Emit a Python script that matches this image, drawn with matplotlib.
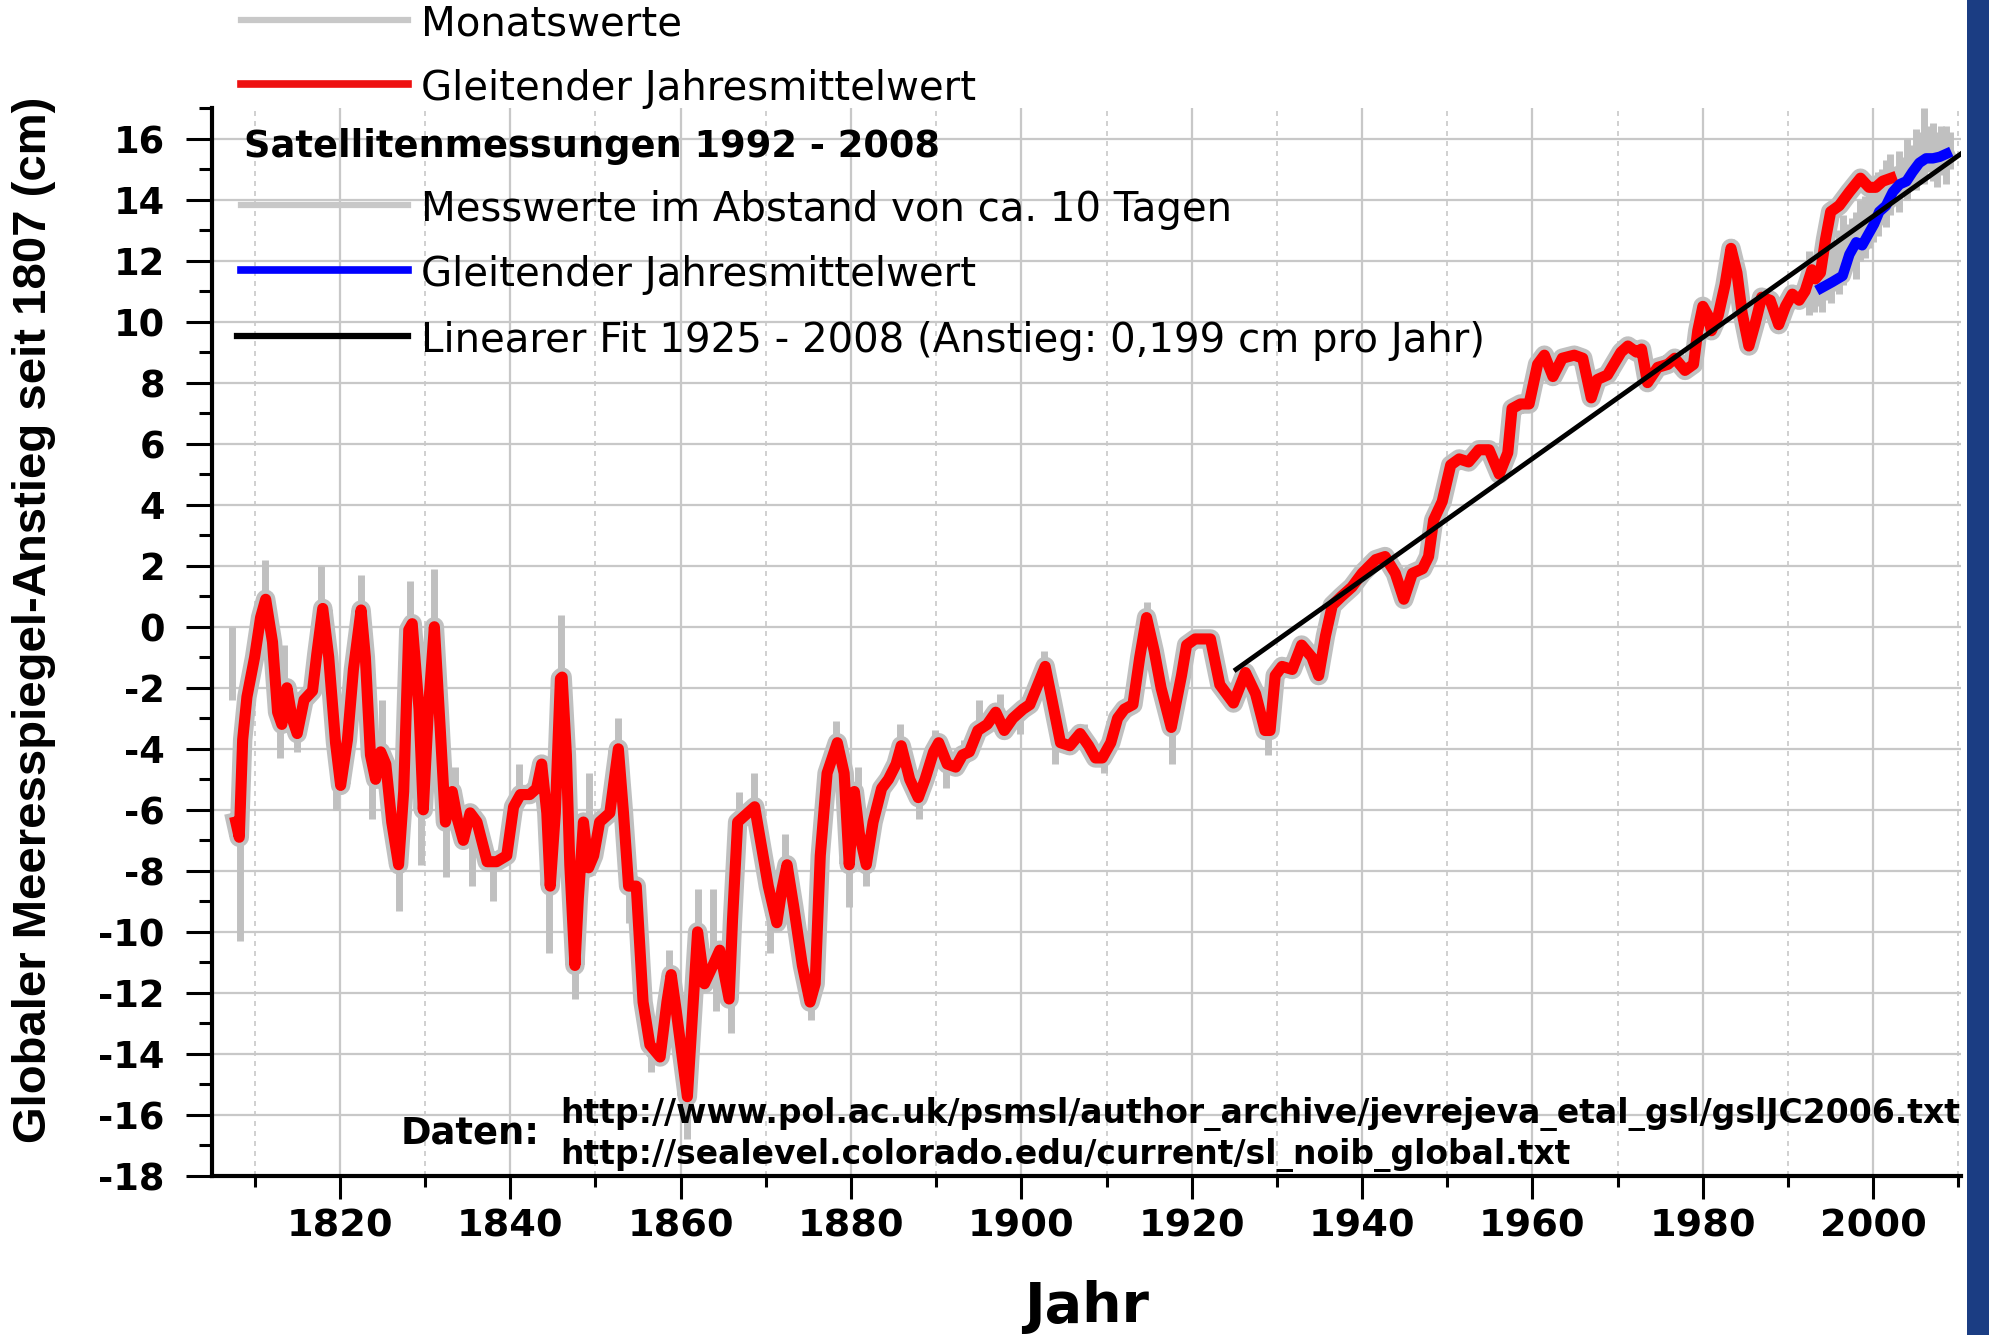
import matplotlib
matplotlib.use("Agg")
import matplotlib.pyplot as plt
from matplotlib.lines import Line2D
from matplotlib.patches import Rectangle
from matplotlib.ticker import MultipleLocator

plt.rcParams["font.family"] = ["DejaVu Sans"]
plt.rcParams["axes.unicode_minus"] = False

# gleitender Jahresmittelwert der Pegeldaten (cm)
red_years = [
    1807.8, 1808.2, 1808.6, 1809.1, 1810.0, 1810.7, 1811.3, 1812.1, 1812.7, 1813.2,
    1813.8, 1814.4, 1815.0, 1815.8, 1816.8, 1817.3, 1818.0, 1818.7, 1819.5, 1820.1,
    1820.9, 1821.6, 1822.5, 1823.0, 1823.6, 1824.2, 1824.8, 1825.4, 1826.1, 1826.9,
    1827.5, 1828.1, 1828.5, 1829.3, 1829.8, 1830.4, 1831.1, 1831.8, 1832.4, 1833.2,
    1833.8, 1834.5, 1835.3, 1836.1, 1837.3, 1838.4, 1839.6, 1840.4, 1841.2, 1842.3,
    1843.1, 1843.7, 1844.3, 1844.7, 1845.3, 1845.9, 1846.1, 1846.6, 1847.0, 1847.6,
    1848.0, 1848.6, 1849.2, 1849.8, 1850.5, 1851.7, 1852.7, 1853.3, 1853.9, 1854.8,
    1855.6, 1856.4, 1857.6, 1858.4, 1858.9, 1859.5, 1860.8, 1862.0, 1862.8, 1863.8,
    1864.6, 1865.7, 1866.1, 1866.7, 1867.9, 1868.7, 1869.5, 1870.3, 1871.3, 1871.9,
    1872.5, 1873.3, 1874.3, 1875.2, 1875.8, 1876.4, 1877.2, 1878.4, 1879.2, 1879.8,
    1880.4, 1881.0, 1881.8, 1882.6, 1883.6, 1884.4, 1885.3, 1885.9, 1886.9, 1887.9,
    1888.7, 1889.7, 1890.3, 1891.3, 1892.3, 1893.1, 1893.9, 1894.9, 1896.0, 1897.0,
    1898.0, 1899.0, 1900.2, 1901.0, 1901.8, 1902.8, 1903.6, 1904.6, 1905.7, 1906.9,
    1907.9, 1908.7, 1909.5, 1910.5, 1911.3, 1912.1, 1913.1, 1913.9, 1914.7, 1915.6,
    1916.4, 1917.6, 1918.8, 1919.4, 1920.4, 1922.2, 1923.3, 1924.9, 1926.3, 1927.5,
    1928.6, 1929.2, 1929.8, 1930.6, 1931.8, 1932.9, 1934.1, 1934.9, 1935.7, 1936.5,
    1937.6, 1938.8, 1940.0, 1941.6, 1942.7, 1943.9, 1944.9, 1945.9, 1947.1, 1947.8,
    1948.4, 1949.4, 1950.4, 1951.4, 1952.5, 1953.7, 1954.9, 1956.1, 1957.1, 1957.6,
    1958.6, 1959.6, 1960.6, 1961.4, 1962.4, 1963.5, 1964.9, 1965.9, 1966.9, 1967.6,
    1968.8, 1970.4, 1971.2, 1972.2, 1972.8, 1973.5, 1974.7, 1975.9, 1976.7, 1977.9,
    1978.9, 1979.4, 1980.0, 1980.6, 1981.0, 1981.8, 1982.6, 1983.3, 1984.0, 1984.6,
    1985.4, 1986.1, 1986.9, 1987.9, 1988.9, 1989.7, 1990.5, 1991.3, 1992.0, 1992.8,
    1993.2, 1993.8, 1994.4, 1995.0, 1996.0, 1997.2, 1998.5, 1999.5, 2000.3, 2001.1,
    2002.1,
]
red_cm = [
    -6.4, -6.9, -3.7, -2.3, -1.0, 0.3, 0.9, -0.5, -2.8, -3.2,
    -2.0, -3.0, -3.5, -2.4, -2.1, -0.9, 0.6, -1.0, -3.8, -5.2,
    -3.7, -1.4, 0.55, -1.0, -4.2, -5.0, -4.1, -4.5, -6.4, -7.8,
    -5.4, -0.1, 0.1, -2.7, -6.0, -2.7, 0.0, -3.4, -6.4, -5.4,
    -6.3, -7.0, -6.1, -6.4, -7.7, -7.7, -7.5, -5.9, -5.5, -5.5,
    -5.3, -4.5, -6.1, -8.5, -6.1, -1.7, -1.65, -4.2, -7.8, -11.1,
    -8.9, -6.4, -7.9, -7.5, -6.4, -6.1, -4.0, -6.1, -8.5, -8.5,
    -12.3, -13.7, -14.1, -12.3, -11.4, -12.6, -15.4, -10.0, -11.7, -11.1,
    -10.6, -12.2, -9.6, -6.4, -6.1, -5.9, -7.2, -8.5, -9.7, -8.6,
    -7.8, -9.2, -11.1, -12.3, -11.7, -7.5, -4.8, -3.8, -4.8, -7.8,
    -5.4, -6.8, -7.8, -6.4, -5.3, -5.0, -4.5, -3.9, -5.0, -5.6,
    -5.0, -4.1, -3.8, -4.5, -4.6, -4.2, -4.1, -3.4, -3.2, -2.8,
    -3.4, -3.0, -2.7, -2.55, -2.0, -1.3, -2.4, -3.8, -3.9, -3.5,
    -3.9, -4.3, -4.3, -3.8, -3.0, -2.7, -2.55, -1.0, 0.3, -0.8,
    -2.0, -3.3, -1.6, -0.6, -0.4, -0.4, -1.9, -2.5, -1.5, -2.2,
    -3.4, -3.4, -1.6, -1.3, -1.4, -0.6, -1.0, -1.6, -0.3, 0.7,
    1.0, 1.3, 1.75, 2.2, 2.3, 1.75, 0.9, 1.75, 1.9, 2.3,
    3.5, 4.1, 5.3, 5.5, 5.4, 5.8, 5.8, 5.0, 5.7, 7.15,
    7.3, 7.3, 8.6, 8.9, 8.2, 8.8, 8.9, 8.8, 7.5, 8.1,
    8.25, 9.0, 9.2, 9.0, 9.1, 8.0, 8.5, 8.6, 8.8, 8.4,
    8.6, 9.7, 10.5, 10.2, 9.7, 10.2, 11.2, 12.4, 11.6, 10.3,
    9.2, 9.9, 10.8, 10.7, 9.9, 10.5, 10.9, 10.7, 11.0, 11.7,
    11.4, 11.6, 12.7, 13.6, 13.8, 14.25, 14.7, 14.4, 14.4, 14.6,
    14.7,
]

# Monatswerte: sichtbare Ausreisser (Jahr, Minimum, Maximum)
month_years = [
    1807.4, 1808.3, 1811.2, 1813.0, 1813.4, 1815.0, 1817.8, 1819.6, 1822.5, 1823.8,
    1825.0, 1827.0, 1828.3, 1829.5, 1831.0, 1832.5, 1833.5, 1835.5, 1838.0, 1841.0,
    1843.0, 1844.6, 1846.0, 1847.6, 1849.3, 1852.6, 1854.0, 1856.5, 1858.7, 1860.7,
    1862.0, 1863.8, 1864.2, 1865.9, 1866.9, 1868.6, 1870.5, 1872.3, 1875.3, 1878.2,
    1879.8, 1880.8, 1881.8, 1885.8, 1888.0, 1889.9, 1891.2, 1893.3, 1895.0, 1897.5,
    1899.8, 1902.7, 1904.0, 1907.4, 1909.7, 1914.7, 1917.7, 1920.8, 1929.0, 1983.3,
]
month_lo = [
    -2.4, -10.3, 0.0, -4.3, -2.5, -4.1, 0.0, -6.0, 0.0, -6.3,
    -4.5, -9.3, 0.0, -7.8, 0.0, -8.2, -5.5, -8.5, -9.0, -6.0,
    -5.5, -10.7, -2.0, -12.2, -7.0, -4.5, -9.7, -14.6, -12.0, -16.8,
    -10.5, -11.5, -12.6, -13.3, -6.5, -6.0, -10.7, -8.0, -12.9, -4.0,
    -9.2, -6.0, -8.5, -4.0, -6.3, -4.0, -5.3, -4.5, -3.5, -3.2,
    -3.5, -1.5, -4.5, -4.0, -4.8, 0.0, -4.5, -0.5, -4.2, 12.0,
]
month_hi = [
    0.0, -6.0, 2.2, -2.5, -0.6, -3.0, 2.0, -3.5, 1.7, -4.5,
    -2.4, -7.0, 1.5, -5.5, 1.9, -6.0, -4.6, -6.0, -7.5, -4.5,
    -4.6, -8.0, 0.4, -10.5, -4.8, -3.0, -8.0, -13.0, -10.6, -15.0,
    -8.6, -8.6, -11.0, -12.0, -5.4, -4.8, -8.5, -6.8, -12.0, -3.1,
    -7.5, -4.6, -7.5, -3.2, -5.5, -3.4, -4.5, -3.7, -2.4, -2.2,
    -2.7, -0.8, -3.5, -3.2, -4.0, 0.8, -3.2, -0.2, -3.2, 12.7,
]

# Satellitenmesswerte (ca. 10 Tage): Streubereich je Halbjahr
sat_years = [
    1992.5, 1993.0, 1993.5, 1994.0, 1994.5, 1995.0, 1995.5, 1996.0, 1996.5, 1997.0,
    1997.5, 1998.0, 1998.5, 1999.0, 1999.5, 2000.0, 2000.5, 2001.0, 2001.5, 2002.0,
    2002.5, 2003.0, 2003.5, 2004.0, 2004.5, 2005.0, 2005.5, 2006.0, 2006.5, 2007.0,
    2007.5, 2008.0, 2008.5, 2009.0,
]
sat_lo = [
    10.2, 10.3, 10.5, 10.3, 10.7, 10.6, 11.0, 10.9, 11.2, 11.6,
    11.9, 11.4, 12.0, 12.1, 12.4, 12.6, 12.8, 13.2, 13.1, 13.5,
    13.8, 13.6, 14.1, 14.0, 14.4, 14.3, 14.6, 14.5, 14.9, 14.6,
    14.4, 14.8, 14.5, 15.0,
]
sat_hi = [
    12.3, 12.0, 11.8, 11.9, 12.0, 12.2, 12.6, 13.0, 13.5, 13.2,
    13.4, 13.6, 14.0, 14.1, 14.3, 14.5, 14.9, 15.0, 15.3, 15.5,
    15.0, 15.6, 15.4, 16.0, 15.8, 16.3, 16.2, 17.0, 16.4, 16.5,
    16.2, 16.4, 16.4, 16.2,
]

# gleitender Jahresmittelwert der Satellitendaten (cm)
blue_years = [
    1993.9, 1995.2, 1996.4, 1997.2, 1998.0, 1998.7, 1999.5, 2000.1, 2000.7, 2001.5,
    2002.3, 2003.1, 2003.9, 2004.6, 2005.4, 2006.2, 2007.0, 2007.8, 2008.6,
]
blue_cm = [
    11.1, 11.3, 11.5, 12.2, 12.6, 12.5, 12.9, 13.2, 13.6, 13.8,
    14.25, 14.5, 14.6, 14.9, 15.2, 15.35, 15.35, 15.4, 15.5,
]

# linearer Fit 1925 - 2008
fit_years = [1925.2, 2010.3]
fit_cm = [-1.4, 15.5]

x_ticks = [1820, 1840, 1860, 1880, 1900, 1920, 1940, 1960, 1980, 2000]
y_ticks = list(range(-18, 17, 2))

legend_labels = [
    "Monatswerte",
    "Gleitender Jahresmittelwert",
    "Satellitenmessungen 1992 - 2008",
    "Messwerte im Abstand von ca. 10 Tagen",
    "Gleitender Jahresmittelwert",
    "Linearer Fit 1925 - 2008 (Anstieg: 0,199 cm pro Jahr)",
]
legend_colors = ["#c8c8c8", "#ee1111", None, "#c8c8c8", "#0000ff", "black"]
legend_base_px = [36, 100, 157, 221, 286, 352]

GREY = "#c0c0c0"
GRID = "#c8c8c8"
W, H = 1990, 1335

fig = plt.figure(figsize=(19.9, 13.35), dpi=100)
ax = fig.add_axes([212 / W, 1 - 1176 / H, (1961 - 212) / W, (1176 - 108) / H])

ax.vlines(month_years, month_lo, month_hi, color=GREY, lw=5, zorder=2)
ax.plot(red_years, red_cm, color=GREY, lw=14, zorder=2)
ax.vlines(sat_years, sat_lo, sat_hi, color=GREY, lw=5, zorder=2)
ax.plot(blue_years, blue_cm, color=GREY, lw=12, zorder=2)
ax.plot(red_years, red_cm, color="#ff0000", lw=8, zorder=3)
ax.plot(blue_years, blue_cm, color="#0000ff", lw=7.5, zorder=3)
ax.plot(fit_years, fit_cm, color="black", lw=3.5, zorder=4)

ax.set_xlim(1805, 2010.3)
ax.set_ylim(-18, 17)
ax.set_xticks(x_ticks)
ax.set_xticklabels([str(t) for t in x_ticks], fontsize=27.5, fontweight="bold")
ax.set_yticks(y_ticks)
ax.set_yticklabels([str(t) for t in y_ticks], fontsize=26.5, fontweight="bold")
ax.xaxis.set_minor_locator(MultipleLocator(10))
ax.yaxis.set_minor_locator(MultipleLocator(1))

ax.tick_params(axis="x", which="major", direction="out", length=16.5, width=2.2, pad=7)
ax.tick_params(axis="x", which="minor", direction="out", length=8, width=2.2)
ax.tick_params(axis="y", which="major", direction="out", length=19, width=2.2, pad=15)
ax.tick_params(axis="y", which="minor", direction="out", length=9.5, width=2.2)

for side in ("top", "right"):
    ax.spines[side].set_visible(False)
for side in ("left", "bottom"):
    ax.spines[side].set_linewidth(3)

ax.grid(which="major", axis="both", color=GRID, lw=1.6, ls="-")
ax.grid(which="minor", axis="x", color=GRID, lw=1.2, ls=(0, (3, 3)))
ax.set_axisbelow(True)

fig.text(0.017, 0.536, "Globaler Meeresspiegel-Anstieg seit 1807 (cm)", rotation=90,
         ha="center", va="center", fontsize=34, fontweight="bold",
         family=["Liberation Sans", "DejaVu Sans"])
fig.text(1087 / W, 1 - 1307 / H, "Jahr", ha="center", va="center",
         fontsize=40, fontweight="bold")

# Legende von Hand, teils oberhalb der Achsen
for label, color, base in zip(legend_labels, legend_colors, legend_base_px):
    yb = 1 - base / H
    if color is None:
        fig.text(244 / W, yb, label, ha="left", va="baseline", fontsize=26.5,
                 fontweight="bold")
        continue
    yl = 1 - (base - 16) / H
    x0 = 237 if color == "black" else 241
    lw = {"black": 4.5, "#c8c8c8": 4.5}.get(color, 5.5)
    fig.add_artist(Line2D([x0 / W, 408 / W], [yl, yl], color=color, lw=lw,
                          transform=fig.transFigure))
    fig.text(421 / W, yb, label, ha="left", va="baseline", fontsize=29)

fig.text(401 / W, 1 - 1133 / H, "Daten:", ha="left", va="center",
         fontsize=26.5, fontweight="bold")
fig.text(560 / W, 1 - 1114 / H,
         "http://www.pol.ac.uk/psmsl/author_archive/jevrejeva_etal_gsl/gslJC2006.txt",
         ha="left", va="center", fontsize=23.75, fontweight="bold")
fig.text(560 / W, 1 - 1155 / H,
         "http://sealevel.colorado.edu/current/sl_noib_global.txt",
         ha="left", va="center", fontsize=23.75, fontweight="bold")

fig.add_artist(Rectangle((1967 / W, 0), 1 - 1967 / W, 1, transform=fig.transFigure,
                         color="#1b3d83", lw=0))

fig.savefig("out.png", dpi=100)
